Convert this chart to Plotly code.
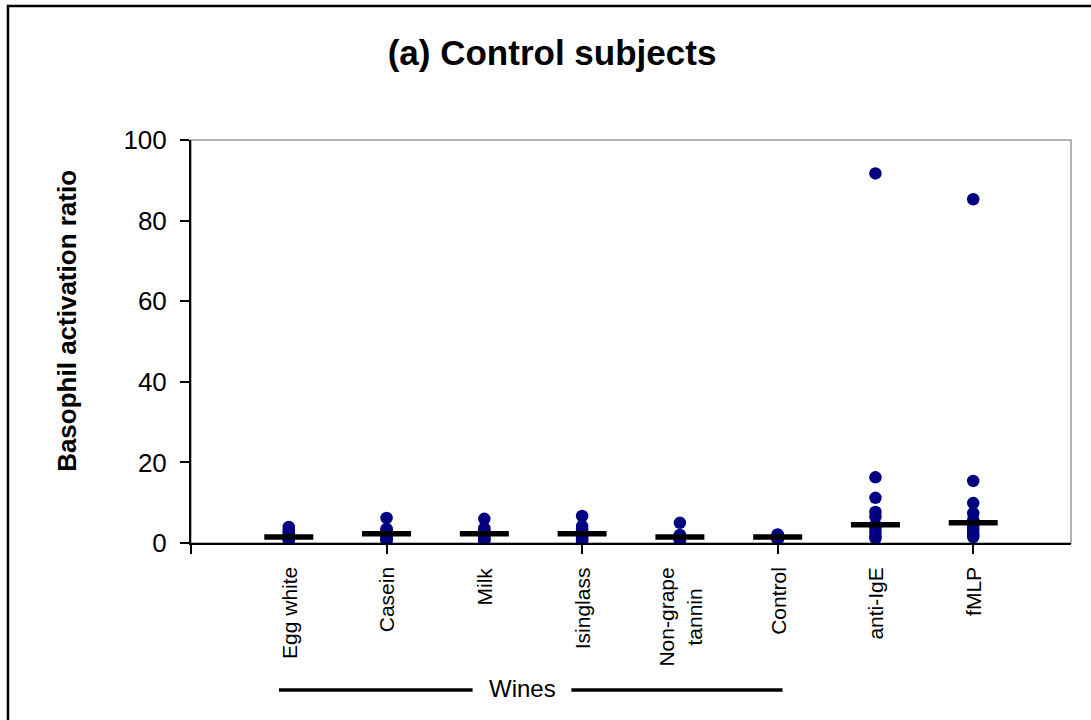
import numpy as np
import plotly.graph_objects as go

# Stimuli (x positions 1..8) and per-subject basophil activation ratios
categories = ["Egg white", "Casein", "Milk", "Isinglass", "Non-grape<br>tannin",
              "Control", "anti-IgE", "fMLP"]
egg_white = [0.7, 0.9, 1.1, 1.3, 1.4, 1.5, 1.8, 2.2, 2.7, 3.3, 4.0]
casein = [0.6, 0.9, 1.2, 1.6, 2.0, 2.3, 2.6, 2.9, 3.2, 3.5, 6.2]
milk = [0.6, 0.9, 1.2, 1.6, 2.0, 2.3, 2.6, 2.9, 3.3, 3.7, 6.0]
isinglass = [0.6, 0.9, 1.3, 1.7, 2.0, 2.3, 2.7, 3.1, 3.6, 4.2, 6.7]
non_grape_tannin = [0.6, 0.8, 1.0, 1.2, 1.4, 1.5, 1.6, 1.7, 1.8, 2.0, 5.0]
control = [0.9, 1.0, 1.1, 1.2, 1.4, 1.5, 1.6, 1.7, 1.8, 2.0, 2.1]
anti_ige = [1.2, 1.8, 2.6, 3.6, 4.2, 4.5, 6.5, 7.7, 11.2, 16.3, 91.7]
fmlp = [1.5, 2.0, 2.8, 3.5, 4.2, 5.0, 5.8, 7.4, 9.9, 15.4, 85.3]

groups = [egg_white, casein, milk, isinglass, non_grape_tannin, control, anti_ige, fmlp]
positions = list(range(1, len(groups) + 1))
y_ticks = [0, 20, 40, 60, 80, 100]

FONT = "Liberation Sans, Arial, sans-serif"

fig = go.Figure()

# individual subjects
xs, ys = [], []
for pos, vals in zip(positions, groups):
    xs += [pos] * len(vals)
    ys += vals
fig.add_trace(go.Scatter(
    x=xs, y=ys, mode="markers",
    marker=dict(color="#000080", size=12.5),
    showlegend=False, hoverinfo="y"))

# group medians as horizontal bars
medians = [float(np.median(v)) for v in groups]
fig.add_trace(go.Scatter(
    x=positions, y=medians, mode="markers",
    marker=dict(symbol="line-ew", size=35, color="black",
                line=dict(width=5.5, color="black")),
    showlegend=False, hoverinfo="y"))

fig.update_layout(
    width=1091, height=720,
    margin=dict(l=191, r=20, t=140, b=177),
    paper_bgcolor="white", plot_bgcolor="white",
    font=dict(family=FONT, color="black"),
    title=dict(text="(a) Control subjects", x=0.506, xref="container",
               y=1 - 53 / 720, yref="container", xanchor="center", yanchor="middle",
               font=dict(family=FONT, size=35, weight="bold", color="black")),
    xaxis=dict(range=[0, 9], tickvals=[0, 2, 4, 6, 8], showticklabels=False,
               ticks="outside", ticklen=9, tickwidth=1.5, tickcolor="black",
               showline=True, linecolor="black", linewidth=2, showgrid=False,
               zeroline=False),
    yaxis=dict(range=[0, 100], tickvals=y_ticks, ticks="outside", ticklen=9,
               tickwidth=1.5, tickcolor="black", showline=True, linecolor="black",
               linewidth=2, showgrid=False, zeroline=False,
               tickfont=dict(family=FONT, size=26, color="black"),
               ticklabelstandoff=8),
)

shapes = [
    # plot-area frame
    dict(type="rect", xref="paper", yref="paper", x0=0, x1=1, y0=0, y1=1,
         line=dict(color="#9a9a9a", width=1.5), layer="below"),
    # chart border
    dict(type="rect", xref="paper", yref="paper", x0=-0.208, x1=1.1,
         y0=-0.5, y1=1.3325, line=dict(color="black", width=2.5)),
    # "Wines" bracket lines
    dict(type="line", xref="x", yref="paper", x0=0.90, x1=2.88,
         y0=-0.365, y1=-0.365, line=dict(color="black", width=3.5)),
    dict(type="line", xref="x", yref="paper", x0=3.89, x1=6.05,
         y0=-0.365, y1=-0.365, line=dict(color="black", width=3.5)),
]

annotations = [
    dict(text="<b>Basophil activation ratio</b>", xref="paper", yref="paper",
         x=-0.141, y=0.551, textangle=-90, showarrow=False,
         xanchor="center", yanchor="middle",
         font=dict(family=FONT, size=26, color="black")),
    dict(text="Wines", xref="x", yref="paper", x=3.39, y=-0.362,
         showarrow=False, xanchor="center", yanchor="middle",
         font=dict(family=FONT, size=24, color="black")),
]
for pos, name in zip(positions, categories):
    annotations.append(dict(
        text=name, xref="x", yref="paper", x=pos, y=-0.055,
        textangle=-90, showarrow=False, xanchor="center", yanchor="top",
        align="center", font=dict(family=FONT, size=21, color="black")))

fig.update_layout(shapes=shapes, annotations=annotations)

fig.write_html("out.html")
